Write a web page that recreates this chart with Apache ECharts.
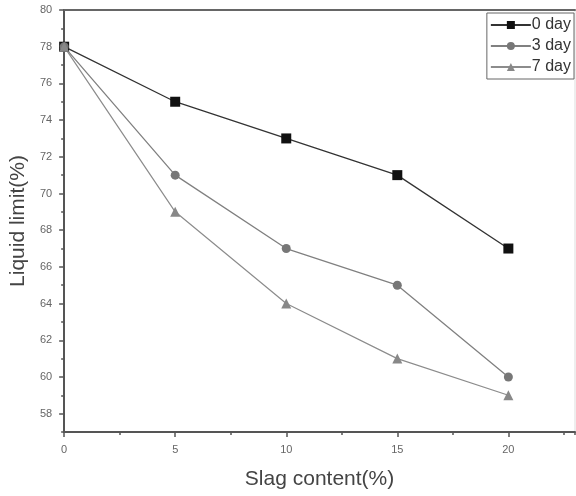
<!DOCTYPE html>
<html>
<head>
<meta charset="utf-8">
<script src="https://cdn.jsdelivr.net/npm/echarts@6/dist/echarts.min.js"></script>
<style>html,body{margin:0;padding:0;background:#fff}#c{width:576px;height:496px}</style>
</head>
<body>
<div id="c"></div>
<script>
const slag = [0, 5, 10, 15, 20];
const day0 = [78, 75, 73, 71, 67];
const day3 = [78, 71, 67, 65, 60];
const day7 = [78, 69, 64, 61, 59];
const seriesNames = ['0 day', '3 day', '7 day'];
const xTickLabels = [0, 5, 10, 15, 20];
const yTickLabels = [58, 60, 62, 64, 66, 68, 70, 72, 74, 76, 78, 80];

const font = 'Liberation Sans, Arial, sans-serif';
const pair = (ys) => slag.map((x, i) => [x, ys[i]]);
const chart = echarts.init(document.getElementById('c'));
chart.setOption({
  animation: false,
  grid: { left: 63, right: 1, top: 10, bottom: 64, show: true, borderColor: '#ddd', borderWidth: 1 },
  legend: {
    orient: 'vertical', right: 2, top: 13,
    data: seriesNames,
    borderColor: '#666', borderWidth: 1, borderRadius: 0,
    padding: [4, 3, 4, 3], itemGap: 5, itemWidth: 40, itemHeight: 10,
    textStyle: { fontFamily: font, fontSize: 16, color: '#333', padding: [0, 0, 0, -4] }
  },
  xAxis: [
    {
      type: 'value', min: 0, max: 23, interval: 5, position: 'bottom',
      name: 'Slag content(%)', nameLocation: 'middle', nameGap: 37,
      nameTextStyle: { fontFamily: font, fontSize: 21, color: '#444' },
      axisLine: { show: true, lineStyle: { color: '#555', width: 2 } },
      axisTick: { show: true, length: 5, customValues: xTickLabels, lineStyle: { color: '#555', width: 1.5 } },
      axisLabel: { customValues: xTickLabels, fontFamily: font, fontSize: 11, color: '#666', margin: 12 },
      splitLine: { show: false }
    },
    {
      type: 'value', min: 0, max: 23, interval: 2.5, position: 'bottom',
      axisLine: { show: false },
      axisTick: { show: true, length: 3, lineStyle: { color: '#555', width: 1.5 } },
      axisLabel: { show: false }, splitLine: { show: false }
    },
    {
      type: 'value', min: 0, max: 23, position: 'top',
      axisLine: { show: true, lineStyle: { color: '#666', width: 2 } },
      axisTick: { show: false }, axisLabel: { show: false }, splitLine: { show: false }
    }
  ],
  yAxis: [
    {
      type: 'value', min: 57, max: 80, interval: 1, position: 'left',
      name: 'Liquid limit(%)', nameLocation: 'middle', nameGap: 35, nameRotate: 90,
      nameTextStyle: { fontFamily: font, fontSize: 21, color: '#444' },
      axisLine: { show: true, lineStyle: { color: '#555', width: 2 } },
      axisTick: { show: true, length: 5, customValues: yTickLabels, lineStyle: { color: '#555', width: 1.5 } },
      axisLabel: { customValues: yTickLabels, fontFamily: font, fontSize: 11, color: '#666', margin: 12 },
      splitLine: { show: false }
    },
    {
      type: 'value', min: 57, max: 80, interval: 1, position: 'left',
      axisLine: { show: false },
      axisTick: { show: true, length: 3, lineStyle: { color: '#555', width: 1.5 } },
      axisLabel: { show: false }, splitLine: { show: false }
    }
  ],
  series: [
    { name: seriesNames[0], type: 'line', data: pair(day0), symbol: 'rect', symbolSize: 10,
      lineStyle: { color: '#333', width: 1.3 }, itemStyle: { color: '#111' } },
    { name: seriesNames[1], type: 'line', data: pair(day3), symbol: 'circle', symbolSize: 9,
      lineStyle: { color: '#808080', width: 1.3 }, itemStyle: { color: '#777' } },
    { name: seriesNames[2], type: 'line', data: pair(day7), symbol: 'triangle', symbolSize: 10,
      lineStyle: { color: '#8c8c8c', width: 1.2 }, itemStyle: { color: '#888' } }
  ]
});
</script>
</body>
</html>
